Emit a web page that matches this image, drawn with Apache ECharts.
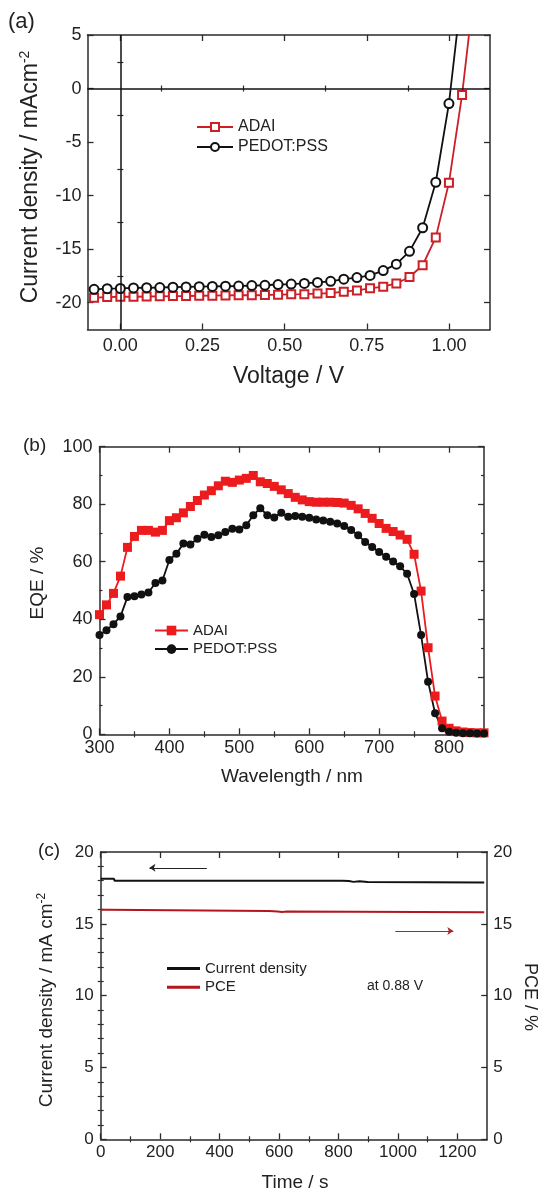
<!DOCTYPE html>
<html>
<head>
<meta charset="utf-8">
<title>J-V, EQE and stability</title>
<script src="https://cdn.jsdelivr.net/npm/echarts@6/dist/echarts.min.js"></script>
<style>
  html, body { margin: 0; padding: 0; background: #fff; }
  #chart { width: 538px; height: 1190px; }
</style>
</head>
<body>
<div id="chart"></div>
<script>
// (a) J-V curves, one marker every 0.04 V
const voltage = [-0.08, -0.04, 0, 0.04, 0.08, 0.12, 0.16, 0.20, 0.24, 0.28, 0.32, 0.36, 0.40, 0.44, 0.48,
  0.52, 0.56, 0.60, 0.64, 0.68, 0.72, 0.76, 0.80, 0.84, 0.88, 0.92, 0.96, 1.00, 1.04, 1.08];
const jvAdai = [-19.53, -19.47, -19.44, -19.44, -19.42, -19.4, -19.38, -19.37, -19.35, -19.34, -19.32, -19.3,
  -19.3, -19.28, -19.25, -19.22, -19.2, -19.15, -19.1, -18.97, -18.85, -18.65, -18.5, -18.2, -17.6, -16.5,
  -13.9, -8.8, -0.6, 10.1];
const jvPedot = [-18.75, -18.69, -18.66, -18.62, -18.6, -18.58, -18.55, -18.52, -18.5, -18.48, -18.46, -18.44,
  -18.4, -18.37, -18.3, -18.26, -18.2, -18.1, -18.0, -17.8, -17.65, -17.45, -17.0, -16.4, -15.2, -13.0,
  -8.75, -1.4, 9.3];
const jvTicksX = [0, 0.25, 0.5, 0.75, 1.0];
const jvMinorX = [0.125, 0.375, 0.625, 0.875];
const jvTicksY = [-20, -15, -10, -5, 0, 5];
const jvMinorY = [-17.5, -12.5, -7.5, -2.5, 2.5];

// (b) EQE spectra
const wavelength = [300, 310, 320, 330, 340, 350, 360, 370, 380, 390, 400, 410, 420, 430, 440, 450, 460, 470,
  480, 490, 500, 510, 520, 530, 540, 550, 560, 570, 580, 590, 600, 610, 620, 630, 640, 650, 660, 670, 680,
  690, 700, 710, 720, 730, 740, 750, 760, 770, 780, 790, 800, 810, 820, 830, 840, 850];
const eqeAdai = [41.6, 45, 49, 55, 65, 68.8, 70.9, 70.9, 70.3, 70.9, 74.3, 75.3, 77, 79.2, 81.3, 83.2, 84.7,
  86.4, 88, 87.6, 88.4, 89, 90, 87.8, 87.2, 86.2, 85, 83.7, 82.4, 81.5, 80.9, 80.7, 80.7, 80.7, 80.6, 80.4,
  79.6, 78.4, 76.8, 75.1, 73.3, 71.6, 70.5, 69.3, 67.8, 62.6, 49.8, 30.1, 13.3, 4.6, 2.1, 1.2, 0.8, 0.6,
  0.5, 0.5];
const eqePedot = [34.5, 36.2, 38.3, 41, 47.7, 48, 48.6, 49.3, 52.6, 53.5, 60.6, 62.8, 66.3, 66, 68, 69.4, 68.6,
  69.2, 70.3, 71.5, 71.2, 72.7, 76.2, 78.6, 76.2, 75.4, 77, 75.6, 75.9, 75.6, 75.3, 74.7, 74.3, 73.9, 73.3,
  72.4, 71, 69.2, 66.9, 65.1, 63.4, 61.7, 60.1, 58.4, 55.8, 48.8, 34.5, 18.3, 7.3, 2.1, 0.9, 0.5, 0.4, 0.4,
  0.3, 0.3];
const eqeTicksX = [300, 400, 500, 600, 700, 800];
const eqeMinorX = [350, 450, 550, 650, 750];
const eqeTicksY = [0, 20, 40, 60, 80, 100];
const eqeMinorY = [10, 30, 50, 70, 90];

// (c) stability at 0.88 V
const timeJ = [0, 44, 47, 812, 815, 835, 850, 870, 898, 902, 1290];
const currentJ = [18.14, 18.14, 18.0, 18.0, 17.92, 17.98, 17.92, 17.97, 17.92, 17.88, 17.88];
const timeP = [0, 20, 23, 566, 570, 595, 610, 627, 630, 1290];
const pce = [15.98, 15.98, 15.9, 15.9, 15.82, 15.86, 15.82, 15.85, 15.8, 15.8];
const stTicksX = [0, 200, 400, 600, 800, 1000, 1200];
const stMinorX = [100, 300, 500, 700, 900, 1100];
const stTicksY = [0, 5, 10, 15, 20];
const stMinorY = [1, 2, 3, 4, 6, 7, 8, 9, 11, 12, 13, 14, 16, 17, 18, 19];

const FONT = '"Liberation Sans", Arial, sans-serif';
const AX = '#2b2b2b';
const TXT = '#222';

const zip = (xs, ys) => ys.map((y, i) => [xs[i], y]);
const plain = v => String(v);

const xAxes = [];
const yAxes = [];
// main axis (line, major ticks, optional labels) plus an overlay for the minor ticks
function addAxis(list, grid, pos, min, max, major, minor, label) {
  const idx = list.length;
  list.push({
    type: 'value', gridIndex: grid, position: pos, min: min, max: max, silent: true,
    axisLine: { show: true, onZero: false, lineStyle: { color: AX, width: 1.5 } },
    axisTick: { show: true, inside: true, length: 6, customValues: major, lineStyle: { color: AX, width: 1.3 } },
    axisLabel: label
      ? Object.assign({ show: true, customValues: major, color: TXT, fontFamily: FONT, formatter: plain }, label)
      : { show: false },
    splitLine: { show: false }
  });
  list.push({
    type: 'value', gridIndex: grid, position: pos, min: min, max: max, silent: true,
    axisLine: { show: false },
    axisTick: { show: true, inside: true, length: 3, customValues: minor, lineStyle: { color: AX, width: 1.2 } },
    axisLabel: { show: false },
    splitLine: { show: false }
  });
  return idx;
}

// panel a
const aX = addAxis(xAxes, 0, 'bottom', -0.1, 1.125, jvTicksX, jvMinorX,
  { fontSize: 18, margin: 8, formatter: v => v.toFixed(2) });
addAxis(xAxes, 0, 'top', -0.1, 1.125, jvTicksX, jvMinorX, null);
const aY = addAxis(yAxes, 0, 'left', -22.5, 5, jvTicksY, jvMinorY, { fontSize: 18, margin: 6 });
addAxis(yAxes, 0, 'right', -22.5, 5, jvTicksY, jvMinorY, null);

// panel b
const bX = addAxis(xAxes, 1, 'bottom', 300, 850, eqeTicksX, eqeMinorX, { fontSize: 18, margin: 5 });
addAxis(xAxes, 1, 'top', 300, 850, eqeTicksX, eqeMinorX, null);
const bY = addAxis(yAxes, 1, 'left', 0, 100, eqeTicksY, eqeMinorY, { fontSize: 18, margin: 7 });
addAxis(yAxes, 1, 'right', 0, 100, eqeTicksY, eqeMinorY, null);

// panel c
const cX = addAxis(xAxes, 2, 'bottom', 0, 1300, stTicksX, stMinorX, { fontSize: 17, margin: 5 });
addAxis(xAxes, 2, 'top', 0, 1300, stTicksX, stMinorX, null);
const cY = addAxis(yAxes, 2, 'left', 0, 20, stTicksY, stMinorY, { fontSize: 17, margin: 7 });
const cY2 = addAxis(yAxes, 2, 'right', 0, 20, stTicksY, stMinorY, { fontSize: 17, margin: 6 });

const RED_A = '#cc1f26';
const RED_B = '#ec1b1d';
const RED_C = '#b3161e';
const BLK = '#111';

const series = [
  {
    name: 'a-ADAI', type: 'line', xAxisIndex: aX, yAxisIndex: aY,
    data: zip(voltage, jvAdai), symbol: 'emptyRect', symbolSize: 8,
    lineStyle: { color: RED_A, width: 1.8 }, itemStyle: { color: RED_A, borderWidth: 1.8 },
    markLine: {
      silent: true, symbol: 'none', label: { show: false },
      lineStyle: { color: BLK, width: 1.5, type: 'solid' },
      data: [{ xAxis: 0 }, { yAxis: 0 }]
    }
  },
  {
    name: 'a-PEDOT:PSS', type: 'line', xAxisIndex: aX, yAxisIndex: aY,
    data: zip(voltage, jvPedot), symbol: 'emptyCircle', symbolSize: 9,
    lineStyle: { color: BLK, width: 1.8 }, itemStyle: { color: BLK, borderWidth: 1.8 }
  },
  {
    name: 'b-ADAI', type: 'line', xAxisIndex: bX, yAxisIndex: bY,
    data: zip(wavelength, eqeAdai), symbol: 'rect', symbolSize: 9,
    lineStyle: { color: RED_B, width: 1.8 }, itemStyle: { color: RED_B }
  },
  {
    name: 'b-PEDOT:PSS', type: 'line', xAxisIndex: bX, yAxisIndex: bY,
    data: zip(wavelength, eqePedot), symbol: 'circle', symbolSize: 8,
    lineStyle: { color: BLK, width: 1.8 }, itemStyle: { color: BLK }
  },
  {
    name: 'c-Current density', type: 'line', xAxisIndex: cX, yAxisIndex: cY,
    data: zip(timeJ, currentJ), symbol: 'none',
    lineStyle: { color: BLK, width: 2 }, itemStyle: { color: BLK },
    markLine: {
      silent: true, symbol: ['none', 'arrow'], symbolSize: 6, label: { show: false },
      lineStyle: { color: '#222', width: 1, type: 'solid' },
      data: [[{ coord: [357, 18.9] }, { coord: [164, 18.9] }]]
    }
  },
  {
    name: 'c-PCE', type: 'line', xAxisIndex: cX, yAxisIndex: cY2,
    data: zip(timeP, pce), symbol: 'none',
    lineStyle: { color: RED_C, width: 2 }, itemStyle: { color: RED_C },
    markLine: {
      silent: true, symbol: ['none', 'arrow'], symbolSize: 6, label: { show: false },
      lineStyle: { color: '#a8232a', width: 1, type: 'solid' },
      data: [[{ coord: [991, 14.5] }, { coord: [1186, 14.5] }]]
    }
  }
];

const legendBase = {
  orient: 'vertical', padding: 0, selectedMode: false,
  formatter: n => n.slice(2)
};

const legend = [
  Object.assign({}, legendBase, {
    left: 196, top: 119, itemGap: 4, itemWidth: 36, itemHeight: 10,
    textStyle: { fontFamily: FONT, fontSize: 16, lineHeight: 16, color: TXT },
    data: ['a-ADAI', 'a-PEDOT:PSS']
  }),
  Object.assign({}, legendBase, {
    left: 154, top: 623, itemGap: 3.6, itemWidth: 33, itemHeight: 12,
    textStyle: { fontFamily: FONT, fontSize: 15, lineHeight: 15, color: TXT },
    data: ['b-ADAI', 'b-PEDOT:PSS']
  }),
  Object.assign({}, legendBase, {
    left: 167, top: 961, itemGap: 3.7, itemWidth: 33, itemHeight: 3, icon: 'rect',
    textStyle: { fontFamily: FONT, fontSize: 15, lineHeight: 15, color: TXT },
    data: ['c-Current density', 'c-PCE']
  })
];

function label(text, x, y, size, rot, align) {
  return {
    type: 'text', x: x, y: y, rotation: rot || 0, silent: true,
    style: {
      text: text, fontFamily: FONT, fontSize: size, fill: TXT,
      align: align || 'center', verticalAlign: 'middle'
    }
  };
}
function supLabel(text, sup, x, y, size, supSize) {
  return {
    type: 'text', x: x, y: y, rotation: Math.PI / 2, silent: true,
    style: {
      text: '{m|' + text + '}{s|' + sup + '}',
      align: 'center', verticalAlign: 'middle',
      rich: {
        m: { fontFamily: FONT, fontSize: size, fill: TXT, lineHeight: size + 3 },
        s: { fontFamily: FONT, fontSize: supSize, fill: TXT, verticalAlign: 'top', lineHeight: size + 3 }
      }
    }
  };
}

const graphic = [
  label('(a)', 8, 22, 22, 0, 'left'),
  label('(b)', 23, 446, 19, 0, 'left'),
  label('(c)', 38, 851, 19, 0, 'left'),
  supLabel('Current density / mAcm', '-2', 31, 177, 23, 14),
  label('Voltage / V', 288.5, 377, 23),
  label('EQE / %', 38, 583, 19, Math.PI / 2),
  label('Wavelength / nm', 292, 777, 19),
  supLabel('Current density / mA cm', '-2', 47, 1000, 19, 12),
  label('PCE / %', 530, 997, 18, -Math.PI / 2),
  label('Time / s', 295, 1183, 19),
  label('at 0.88 V', 367, 986, 14, 0, 'left')
];

const chart = echarts.init(document.getElementById('chart'));
chart.setOption({
  animation: false,
  backgroundColor: '#fff',
  grid: [
    { left: 87.5, top: 35, width: 402.5, height: 294.5, outerBoundsMode: 'none' },
    { left: 99.5, top: 446.7, width: 384.5, height: 287.6, outerBoundsMode: 'none' },
    { left: 100.7, top: 852, width: 386.5, height: 287.3, outerBoundsMode: 'none' }
  ],
  xAxis: xAxes,
  yAxis: yAxes,
  legend: legend,
  graphic: graphic,
  series: series
});
</script>
</body>
</html>
